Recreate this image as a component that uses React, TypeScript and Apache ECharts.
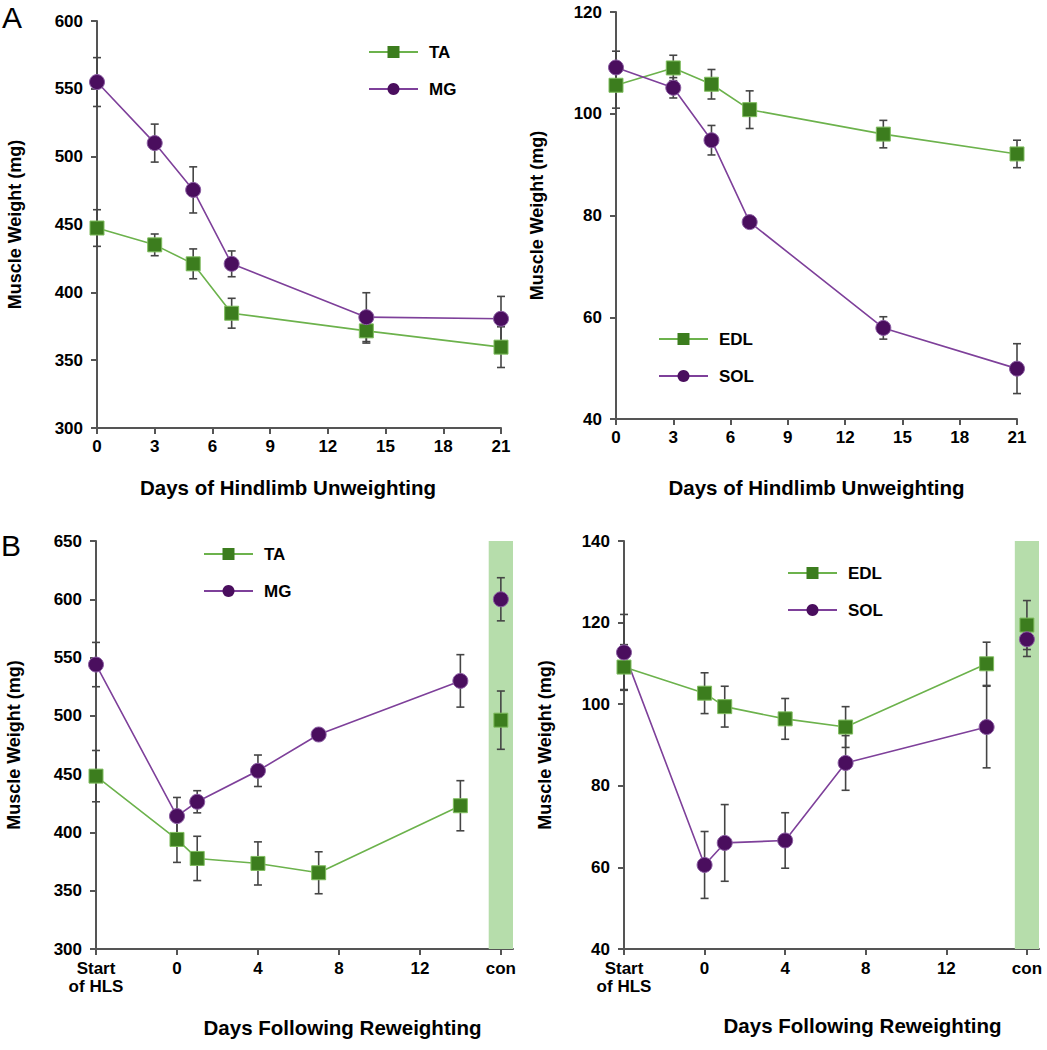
import React, { useEffect, useRef } from "react";
import * as echarts from "echarts";

// ---- Data ----
const daysA = [0, 3, 5, 7, 14, 21];
const taA = [447.4, 435, 421, 384.6, 371.6, 359.6];
const taAErr = [13.5, 8, 11, 11, 9, 15];
const mgA = [555, 510, 475.5, 421, 381.7, 380.5];
const mgAErr = [18, 14, 17, 9.5, 18, 16.5];

const edlA = [105.6, 109, 105.8, 100.8, 96, 92.1];
const edlAErr = [4.5, 2.5, 2.9, 3.7, 2.7, 2.7];
const solA = [109.1, 105.1, 94.8, 78.7, 57.9, 49.9];
const solAErr = [3.2, 2, 2.9, 0.5, 2.2, 4.9];

const daysB = [-4, 0, 1, 4, 7, 14];
const conDay = 16;
const taB = [448.3, 394, 377.7, 373.4, 365.4, 422.9];
const taBErr = [22, 19.7, 19, 18.5, 18, 21.5];
const taCon = [496.3, 25];
const mgB = [544, 414, 426.3, 452.9, 484, 530];
const mgBErr = [19, 16, 9.5, 13.5, 1, 22.5];
const mgCon = [600, 18.5];

const edlB = [109.1, 102.7, 99.4, 96.4, 94.4, 109.9];
const edlBErr = [5.5, 5, 5, 5, 5, 5.3];
const edlCon = [119.4, 6];
const solB = [112.7, 60.6, 66, 66.6, 85.6, 94.4];
const solBErr = [9.3, 8.2, 9.4, 6.8, 6.7, 10];
const solCon = [115.9, 4.2];

const ticksB = [-4, 0, 4, 8, 12, 16];
const tickLabelsB: Record<string, string> = {
  "-4": "Start\nof HLS",
  "0": "0",
  "4": "4",
  "8": "8",
  "12": "12",
  "16": "con",
};
const conBand = [15.4, 16.6];

// ---- Styles ----
const FONT = "Liberation Sans, Arial, sans-serif";
const GREEN_LINE = "#6cb24c";
const GREEN_MARK = "#3c7d1e";
const GREEN_BORDER = "#7fbd5e";
const PURPLE_LINE = "#7e409a";
const PURPLE_MARK = "#4a0e5e";
const PURPLE_BORDER = "#8a5ca2";
const ERR = "#454545";
const AXIS = "#555555";
const BAND = "#b6ddab";

function pairs(xs: number[], ys: number[]) {
  return xs.map((x, i) => [x, ys[i]]);
}
function triples(xs: number[], ys: number[], es: number[]) {
  return xs.map((x, i) => [x, ys[i], es[i]]);
}

function lineSeries(name: string, idx: number, xs: number[], ys: number[], kind: "ta" | "mg") {
  const green = kind === "ta";
  return {
    type: "line",
    name,
    xAxisIndex: idx,
    yAxisIndex: idx,
    data: pairs(xs, ys),
    symbol: green ? "rect" : "circle",
    symbolSize: green ? 14 : 15,
    z: 5,
    lineStyle: { color: green ? GREEN_LINE : PURPLE_LINE, width: 1.6 },
    itemStyle: {
      color: green ? GREEN_MARK : PURPLE_MARK,
      borderColor: green ? GREEN_BORDER : PURPLE_BORDER,
      borderWidth: 1,
    },
    emphasis: { disabled: true },
  };
}

function pointSeries(name: string, idx: number, x: number, y: number, kind: "ta" | "mg") {
  const green = kind === "ta";
  return {
    type: "scatter",
    name,
    xAxisIndex: idx,
    yAxisIndex: idx,
    data: [[x, y]],
    symbol: green ? "rect" : "circle",
    symbolSize: green ? 14 : 15,
    z: 6,
    itemStyle: {
      color: green ? GREEN_MARK : PURPLE_MARK,
      borderColor: green ? GREEN_BORDER : PURPLE_BORDER,
      borderWidth: 1,
      opacity: 1,
    },
    emphasis: { disabled: true },
  };
}

function errSeries(idx: number, data: number[][]) {
  return {
    type: "custom",
    xAxisIndex: idx,
    yAxisIndex: idx,
    z: 4,
    silent: true,
    encode: { x: 0, y: 1 },
    data,
    renderItem: (params: any, api: any) => {
      const x = api.value(0);
      const y = api.value(1);
      const e = api.value(2);
      const top = api.coord([x, y + e]);
      const bot = api.coord([x, y - e]);
      const w = 4;
      const st = { stroke: ERR, lineWidth: 1.6 };
      return {
        type: "group",
        children: [
          { type: "line", shape: { x1: top[0], y1: top[1], x2: bot[0], y2: bot[1] }, style: st },
          { type: "line", shape: { x1: top[0] - w, y1: top[1], x2: top[0] + w, y2: top[1] }, style: st },
          { type: "line", shape: { x1: bot[0] - w, y1: bot[1], x2: bot[0] + w, y2: bot[1] }, style: st },
        ],
      };
    },
  };
}

function bandSeries(idx: number) {
  return {
    type: "custom",
    xAxisIndex: idx,
    yAxisIndex: idx,
    z: 1,
    silent: true,
    clip: false,
    encode: { x: [0, 1] },
    data: [[conBand[0], conBand[1]]],
    renderItem: (params: any, api: any) => {
      const cs = params.coordSys;
      const a = api.coord([api.value(0), 0]);
      const b = api.coord([api.value(1), 0]);
      return {
        type: "rect",
        shape: { x: a[0], y: cs.y, width: b[0] - a[0], height: cs.height },
        style: { fill: BAND },
      };
    },
  };
}

const labelStyle = { color: "#000", fontFamily: FONT, fontWeight: "bold", fontSize: 17 };
const yNameStyle = { color: "#000", fontFamily: FONT, fontWeight: "bold", fontSize: 18 };
const xNameStyle = { color: "#000", fontFamily: FONT, fontWeight: "bold", fontSize: 20.5 };

function xAxisA(idx: number, gap: number, pad: number[]) {
  return {
    type: "value",
    gridIndex: idx,
    min: 0,
    max: 21,
    interval: 3,
    name: "Days of Hindlimb Unweighting",
    nameLocation: "middle",
    nameGap: gap,
    nameTextStyle: { ...xNameStyle, padding: pad },
    axisLine: { show: true, onZero: false, lineStyle: { color: AXIS, width: 2 } },
    axisTick: { show: true, inside: false, length: 6, lineStyle: { color: AXIS, width: 2 } },
    axisLabel: { ...labelStyle, margin: 10 },
    splitLine: { show: false },
  };
}

function xAxisB(idx: number, gap: number, pad: number[]) {
  return {
    type: "value",
    gridIndex: idx,
    min: -4,
    max: conBand[1],
    interval: 4,
    name: "Days Following Reweighting",
    nameLocation: "middle",
    nameGap: gap,
    nameTextStyle: { ...xNameStyle, padding: pad },
    axisLine: { show: true, onZero: false, lineStyle: { color: AXIS, width: 2 } },
    axisTick: {
      show: true,
      inside: false,
      length: 6,
      customValues: ticksB,
      lineStyle: { color: AXIS, width: 2 },
    },
    axisLabel: {
      ...labelStyle,
      margin: 10,
      lineHeight: 18,
      customValues: ticksB,
      formatter: (v: number) => tickLabelsB[String(Math.round(v * 10) / 10)] ?? "",
    },
    splitLine: { show: false },
  };
}

function yAxis(idx: number, min: number, max: number, interval: number, gap: number) {
  return {
    type: "value",
    gridIndex: idx,
    min,
    max,
    interval,
    name: "Muscle Weight (mg)",
    nameLocation: "middle",
    nameGap: gap,
    nameTextStyle: yNameStyle,
    axisLine: { show: true, onZero: false, lineStyle: { color: AXIS, width: 2 } },
    axisTick: { show: true, inside: false, length: 6, lineStyle: { color: AXIS, width: 2 } },
    axisLabel: { ...labelStyle, margin: 14 },
    splitLine: { show: false },
  };
}

function legend(names: string[], left: number, top: number) {
  return {
    data: names,
    orient: "vertical",
    left,
    top,
    itemWidth: 49,
    itemHeight: 15,
    itemGap: 17,
    selectedMode: false,
    itemStyle: { borderWidth: 0 },
    textStyle: { ...labelStyle, fontSize: 17, lineHeight: 20, padding: [0, 0, 0, 6] },
  };
}

export default function App() {
  const ref = useRef<HTMLDivElement>(null);
  useEffect(() => {
    if (!ref.current) return;
    const chart = echarts.init(ref.current, undefined, { renderer: "svg" });
    const option: any = {
      animation: false,
      backgroundColor: "#ffffff",
      grid: [
        { left: 97, top: 21, width: 404, height: 407, outerBoundsMode: "none" },
        { left: 616, top: 12, width: 401, height: 407, outerBoundsMode: "none" },
        { left: 96, top: 541, width: 417, height: 408, outerBoundsMode: "none" },
        { left: 624, top: 541, width: 415, height: 408, outerBoundsMode: "none" },
      ],
      xAxis: [
        xAxisA(0, 49, [0, 22, 0, 0]),
        xAxisA(1, 58, [0, 0, 0, 0]),
        xAxisB(2, 68, [0, 0, 0, 76]),
        xAxisB(3, 66, [0, 0, 0, 62]),
      ],
      yAxis: [
        yAxis(0, 300, 600, 50, 73),
        yAxis(1, 40, 120, 20, 70),
        yAxis(2, 300, 650, 50, 73),
        yAxis(3, 40, 140, 20, 70),
      ],
      legend: [
        legend(["TA", "MG"], 363, 37),
        legend(["EDL", "SOL"], 653, 324),
        legend(["TA", "MG"], 198, 539),
        legend(["EDL", "SOL"], 782, 558),
      ],
      graphic: [
        { type: "text", left: 2, top: 2, style: { text: "A", font: `30px ${FONT}`, fill: "#000" } },
        { type: "text", left: 1, top: 530, style: { text: "B", font: `30px ${FONT}`, fill: "#000" } },
      ],
      series: [
        bandSeries(2),
        bandSeries(3),
        errSeries(0, triples(daysA, taA, taAErr)),
        errSeries(0, triples(daysA, mgA, mgAErr)),
        lineSeries("TA", 0, daysA, taA, "ta"),
        lineSeries("MG", 0, daysA, mgA, "mg"),
        errSeries(1, triples(daysA, edlA, edlAErr)),
        errSeries(1, triples(daysA, solA, solAErr)),
        lineSeries("EDL", 1, daysA, edlA, "ta"),
        lineSeries("SOL", 1, daysA, solA, "mg"),
        errSeries(2, triples(daysB, taB, taBErr)),
        errSeries(2, triples(daysB, mgB, mgBErr)),
        errSeries(2, [[conDay, taCon[0], taCon[1]], [conDay, mgCon[0], mgCon[1]]]),
        lineSeries("TA", 2, daysB, taB, "ta"),
        lineSeries("MG", 2, daysB, mgB, "mg"),
        pointSeries("TA con", 2, conDay, taCon[0], "ta"),
        pointSeries("MG con", 2, conDay, mgCon[0], "mg"),
        errSeries(3, triples(daysB, edlB, edlBErr)),
        errSeries(3, triples(daysB, solB, solBErr)),
        errSeries(3, [[conDay, edlCon[0], edlCon[1]], [conDay, solCon[0], solCon[1]]]),
        lineSeries("EDL", 3, daysB, edlB, "ta"),
        lineSeries("SOL", 3, daysB, solB, "mg"),
        pointSeries("EDL con", 3, conDay, edlCon[0], "ta"),
        pointSeries("SOL con", 3, conDay, solCon[0], "mg"),
      ],
    };
    chart.setOption(option);
    return () => chart.dispose();
  }, []);
  return (
    <div
      ref={ref}
      style={{ position: "absolute", left: 0, top: 0, width: 1047, height: 1050, background: "#fff" }}
    />
  );
}
